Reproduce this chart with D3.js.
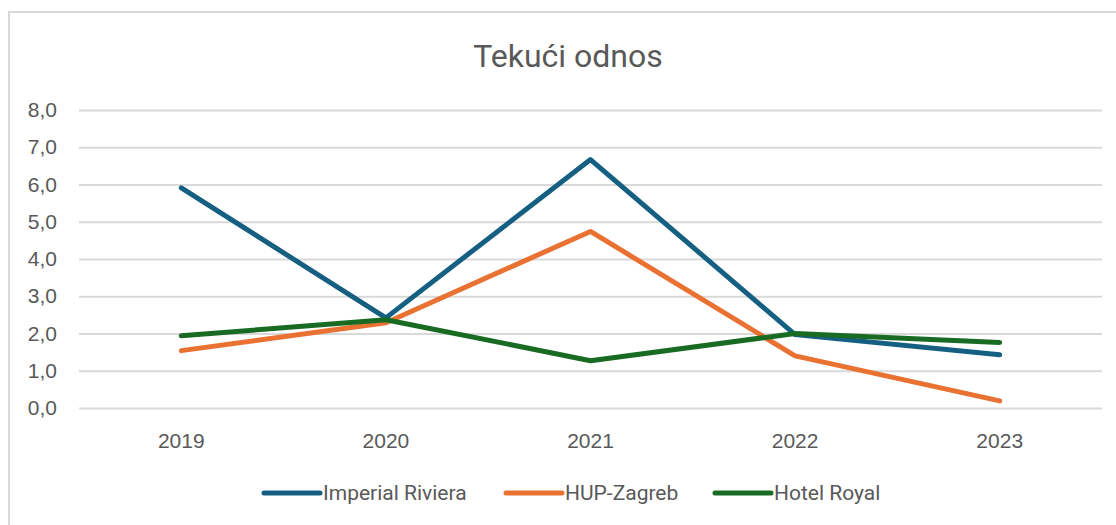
<!DOCTYPE html>
<html>
<head>
<meta charset="utf-8">
<script src="https://cdn.jsdelivr.net/npm/d3@7"></script>
<style>
  body { margin: 0; background: white; }
  svg { display: block; }
</style>
</head>
<body>
<div id="chart"></div>
<script>
// podaci
const years = ["2019", "2020", "2021", "2022", "2023"];
const imperialRiviera = [5.91, 2.42, 6.67, 1.97, 1.43];
const hupZagreb = [1.54, 2.29, 4.74, 1.40, 0.19];
const hotelRoyal = [1.94, 2.37, 1.27, 2.00, 1.76];
const yTickValues = [0, 1, 2, 3, 4, 5, 6, 7, 8];
const seriesNames = ["Imperial Riviera", "HUP-Zagreb", "Hotel Royal"];
const seriesColors = ["#156082", "#E97132", "#196B24"];

const series = [imperialRiviera, hupZagreb, hotelRoyal].map((vals, i) => ({
    name: seriesNames[i],
    color: seriesColors[i],
    values: vals
}));

const width = 1116,
    height = 525,
    plotLeft = 79,
    plotRight = 1102,
    plotTop = 110,
    plotBottom = 408;

const svg = d3.select('#chart')
    .append('svg')
        .attr('width', width)
        .attr('height', height);

// okvir
svg.append('rect')
    .attr('x', 9)
    .attr('y', 12)
    .attr('width', width + 10)
    .attr('height', height + 10)
    .attr('fill', 'white')
    .attr('stroke', '#d9d9d9')
    .attr('stroke-width', 2);

svg.append('text')
    .attr('x', 568)
    .attr('y', 67)
    .attr('text-anchor', 'middle')
    .attr('font-family', 'Roboto, sans-serif')
    .attr('font-size', 32)
    .attr('fill', '#595959')
    .text('Tekući odnos');

const x = d3.scaleBand()
    .domain(years)
    .range([plotLeft, plotRight]);

const y = d3.scaleLinear()
    .domain([0, 8])
    .range([plotBottom, plotTop]);

// mreža
const yAxis = d3.axisLeft(y)
    .tickValues(yTickValues)
    .tickSize(-(plotRight - plotLeft))
    .tickPadding(22)
    .tickFormat(d => d3.format('.1f')(d).replace('.', ','));

const gy = svg.append('g')
    .attr('transform', `translate(${plotLeft},0)`)
    .call(yAxis);
gy.select('.domain').remove();
gy.selectAll('.tick line').attr('stroke', '#d9d9d9').attr('stroke-width', 2);
gy.selectAll('.tick text')
    .attr('font-family', '"Liberation Sans", Arial, sans-serif')
    .attr('font-size', 21)
    .attr('fill', '#595959');

const xAxis = d3.axisBottom(x).tickSize(0).tickPadding(25);
const gx = svg.append('g')
    .attr('transform', `translate(0,${plotBottom})`)
    .call(xAxis);
gx.select('.domain').remove();
gx.selectAll('.tick text')
    .attr('font-family', '"Liberation Sans", Arial, sans-serif')
    .attr('font-size', 21)
    .attr('fill', '#595959');

const line = d3.line()
    .x((d, i) => x(years[i]) + x.bandwidth() / 2)
    .y(d => y(d));

svg.selectAll('path.series')
    .data(series)
    .enter().append('path')
        .attr('class', 'series')
        .attr('fill', 'none')
        .attr('stroke', d => d.color)
        .attr('stroke-width', 5)
        .attr('stroke-linecap', 'round')
        .attr('stroke-linejoin', 'round')
        .attr('d', d => line(d.values));

// legenda
const legendX = [264, 506, 715];
const legend = svg.selectAll('g.legend')
    .data(series)
    .enter().append('g')
        .attr('class', 'legend')
        .attr('transform', (d, i) => `translate(${legendX[i]},493)`);

legend.append('line')
    .attr('x1', 0)
    .attr('x2', 56)
    .attr('stroke', d => d.color)
    .attr('stroke-width', 5)
    .attr('stroke-linecap', 'round');

legend.append('text')
    .attr('x', 59)
    .attr('y', 7)
    .attr('font-family', 'Roboto, sans-serif')
    .attr('font-size', 21)
    .attr('fill', '#595959')
    .text(d => d.name);
</script>
</body>
</html>
